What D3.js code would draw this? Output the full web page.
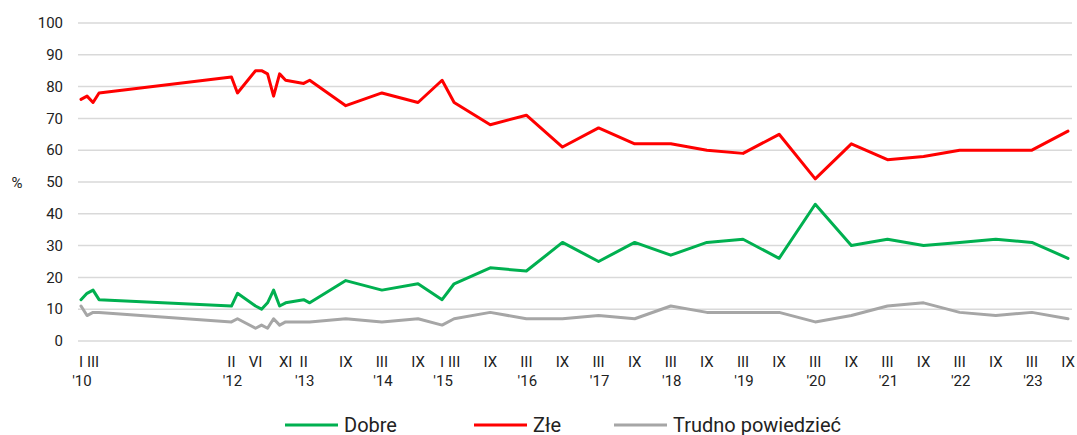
<!DOCTYPE html>
<html lang="pl">
<head>
<meta charset="UTF-8">
<title>Dobre / Złe</title>
<script src="https://cdn.jsdelivr.net/npm/d3@7"></script>
<style>
body { margin: 0; background: #fff; }
svg text { font-family: Roboto, "Liberation Sans", sans-serif; fill: #222; }
.grid line { stroke: #d9d9d9; stroke-width: 1.5px; }
.series { fill: none; stroke-width: 3px; stroke-linejoin: round; stroke-linecap: round; }
</style>
</head>
<body>
<div id="chart"></div>
<script>

// survey dates (year-month)
let periods = ['2010-01','2010-02','2010-03','2010-04',
  '2012-02','2012-03','2012-06','2012-07','2012-08','2012-09','2012-10','2012-11',
  '2013-02','2013-03','2013-09','2014-03','2014-09','2015-01','2015-03','2015-09',
  '2016-03','2016-09','2017-03','2017-09','2018-03','2018-09','2019-03','2019-09',
  '2020-03','2020-09','2021-03','2021-09','2022-03','2022-09','2023-03','2023-09'];

let dobre  = [13,15,16,13, 11,15,11,10,12,16,11,12, 13,12,19,16,18,13,18,23,
              22,31,25,31,27,31,32,26,43,30,32,30,31,32,31,26];
let zle    = [76,77,75,78, 83,78,85,85,84,77,84,82, 81,82,74,78,75,82,75,68,
              71,61,67,62,62,60,59,65,51,62,57,58,60,60,60,66];
let trudno = [11,8,9,9, 6,7,4,5,4,7,5,6, 6,6,7,6,7,5,7,9,
              7,7,8,7,11,9,9,9,6,8,11,12,9,8,9,7];

let seriesNames = ['Dobre', 'Złe', 'Trudno powiedzieć'];
let seriesColors = ['#00b050', '#ff0000', '#a6a6a6'];

let tickMonths = ['2010-01','2010-03','2012-02','2012-06','2012-11','2013-02','2013-09',
  '2014-03','2014-09','2015-01','2015-03','2015-09','2016-03','2016-09','2017-03','2017-09',
  '2018-03','2018-09','2019-03','2019-09','2020-03','2020-09','2021-03','2021-09',
  '2022-03','2022-09','2023-03','2023-09'];
let tickRoman = ['I','III','II','VI','XI','II','IX','III','IX','I','III','IX','III','IX',
  'III','IX','III','IX','III','IX','III','IX','III','IX','III','IX','III','IX'];
let tickYear = ["'10",'',"'12",'','',"'13",'',"'14",'',"'15",'','',"'16",'',"'17",'',
  "'18",'',"'19",'',"'20",'',"'21",'',"'22",'',"'23",''];

let yTicks = [0,10,20,30,40,50,60,70,80,90,100];

const width = 1077, height = 435;

// months since Jan 2010
const monthIndex = (s) => {
  let [y, m] = s.split('-').map(Number);
  return (y - 2010) * 12 + (m - 1);
};

const x = d3.scaleLinear().domain([0, monthIndex('2023-09')]).range([81, 1068]);
const y = d3.scaleLinear().domain([0, 100]).range([341, 23]);

const svg = d3.select('#chart').append('svg')
  .attr('width', width)
  .attr('height', height);

// gridlines
svg.append('g').attr('class', 'grid')
  .selectAll('line')
  .data(yTicks)
  .join('line')
  .attr('x1', 78).attr('x2', 1072)
  .attr('y1', d => y(d)).attr('y2', d => y(d));

// y labels
svg.append('g')
  .selectAll('text')
  .data(yTicks)
  .join('text')
  .attr('x', 63)
  .attr('y', d => y(d))
  .attr('dy', '0.35em')
  .attr('text-anchor', 'end')
  .style('font-size', '15px')
  .text(d => d);

svg.append('text')
  .attr('x', 17).attr('y', 183).attr('dy', '0.35em')
  .attr('text-anchor', 'middle')
  .style('font-size', '15px')
  .text('%');

// x labels
let xl = svg.append('g');
xl.selectAll('text.roman')
  .data(tickMonths)
  .join('text')
  .attr('class', 'roman')
  .attr('x', d => x(monthIndex(d)))
  .attr('y', 367)
  .attr('text-anchor', 'middle')
  .style('font-size', '15px')
  .text((d, i) => tickRoman[i]);
xl.selectAll('text.year')
  .data(tickMonths.filter((d, i) => tickYear[i] !== ''))
  .join('text')
  .attr('class', 'year')
  .attr('x', d => x(monthIndex(d)) + 1)
  .attr('y', 386)
  .attr('text-anchor', 'middle')
  .style('font-size', '15px')
  .text(d => tickYear[tickMonths.indexOf(d)]);

// lines
const line = d3.line()
  .x((d, i) => x(monthIndex(periods[i])))
  .y(d => y(d));

let allSeries = [dobre, zle, trudno];
svg.append('g')
  .selectAll('path')
  .data([trudno, dobre, zle])
  .join('path')
  .attr('class', 'series')
  .attr('stroke', d => seriesColors[allSeries.indexOf(d)])
  .attr('d', line);

// legend
let legendX = [285, 474, 614];
let lg = svg.append('g')
  .selectAll('g')
  .data(seriesNames)
  .join('g')
  .attr('transform', (d, i) => 'translate(' + legendX[i] + ',425)');
lg.append('line')
  .attr('x1', 0).attr('x2', 53)
  .attr('stroke', (d, i) => seriesColors[i])
  .attr('stroke-width', 3);
lg.append('text')
  .attr('x', 59)
  .attr('dy', '0.35em')
  .style('font-size', '20px')
  .text(d => d);

</script>
</body>
</html>
